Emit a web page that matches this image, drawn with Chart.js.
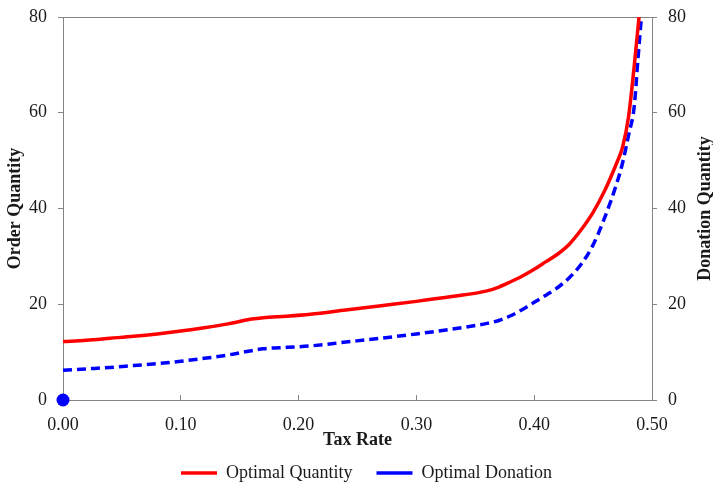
<!DOCTYPE html>
<html>
<head>
<meta charset="utf-8">
<script src="https://cdn.jsdelivr.net/npm/chart.js@4.4.0/dist/chart.umd.min.js"></script>
<style>
  html, body { margin: 0; padding: 0; background: #fff; }
  #wrap { width: 713px; height: 482px; }
</style>
</head>
<body>
<div id="wrap"><canvas id="chart" width="713" height="482"></canvas></div>
<script>
// Data
const quantityRates = [0, 0.02, 0.04, 0.06, 0.08, 0.10, 0.12, 0.14, 0.16, 0.17, 0.19, 0.21, 0.24, 0.27, 0.30, 0.33, 0.36, 0.37, 0.38, 0.39, 0.40, 0.41, 0.42, 0.43, 0.44, 0.45, 0.46, 0.47, 0.475, 0.48, 0.485, 0.489];
const optimalQuantity = [12.2, 12.5, 12.9, 13.3, 13.8, 14.4, 15.1, 15.9, 16.9, 17.2, 17.5, 17.9, 18.8, 19.7, 20.6, 21.6, 22.8, 23.6, 24.7, 25.9, 27.3, 28.9, 30.5, 32.6, 35.6, 39.2, 43.8, 49.5, 52.8, 59.0, 70.0, 80];

const donationRates = [0, 0.02, 0.04, 0.06, 0.08, 0.10, 0.12, 0.14, 0.16, 0.17, 0.19, 0.21, 0.24, 0.27, 0.30, 0.33, 0.36, 0.37, 0.38, 0.39, 0.40, 0.41, 0.42, 0.43, 0.44, 0.45, 0.46, 0.47, 0.475, 0.48, 0.485, 0.488, 0.491];
const optimalDonation = [6.2, 6.5, 6.8, 7.2, 7.6, 8.1, 8.7, 9.4, 10.3, 10.7, 11.0, 11.3, 12.1, 12.9, 13.8, 14.8, 16.0, 16.6, 17.6, 18.9, 20.4, 21.9, 23.5, 25.6, 28.4, 32.4, 38.2, 45.2, 49.5, 55.2, 61.5, 71.0, 80];

const originPoint = [{ x: 0, y: 0 }];

const xTicks = [0, 0.1, 0.2, 0.3, 0.4, 0.5];
const yTicks = [0, 20, 40, 60, 80];

const FONT = "'Liberation Serif', 'Times New Roman', serif";
const AXIS_GREY = '#858585';
const TEXT = '#1a1a1a';

function toPoints(xs, ys) {
    return xs.map((x, i) => ({ x: x, y: ys[i] }));
}

// Vertical axis: no extra room for half-labels at the ends
function fixVertical(width) {
    return scale => {
        scale.width = width;
        scale.paddingTop = 0;
        scale.paddingBottom = 0;
    };
}

// Right-hand title reads bottom-to-top, like the left one
const rightTitle = {
    id: 'rightTitle',
    afterDraw(chart) {
        const area = chart.chartArea;
        const c = chart.ctx;
        c.save();
        c.translate(705, (area.top + area.bottom) / 2);
        c.rotate(-Math.PI / 2);
        c.font = "bold 18px " + FONT;
        c.fillStyle = TEXT;
        c.textAlign = 'center';
        c.textBaseline = 'middle';
        c.fillText('Donation Quantity', 0, 0);
        c.restore();
    }
};

Chart.defaults.font.family = FONT;
Chart.defaults.font.size = 18;
Chart.defaults.color = TEXT;

const ctx = document.getElementById('chart').getContext('2d');

new Chart(ctx, {
    type: 'line',
    data: {
        datasets: [{
            label: 'Optimal Quantity',
            data: toPoints(quantityRates, optimalQuantity),
            borderColor: '#ff0000',
            backgroundColor: '#ff0000',
            borderWidth: 3.5,
            pointRadius: 0,
            cubicInterpolationMode: 'monotone',
            yAxisID: 'y'
        }, {
            label: 'Optimal Donation',
            data: toPoints(donationRates, optimalDonation),
            borderColor: '#0000ff',
            backgroundColor: '#0000ff',
            borderWidth: 3.5,
            borderDash: [9, 5],
            pointRadius: 0,
            cubicInterpolationMode: 'monotone',
            yAxisID: 'y2'
        }, {
            label: 'origin',
            data: originPoint,
            showLine: false,
            pointRadius: 6.5,
            pointBackgroundColor: '#0000ff',
            pointBorderWidth: 0,
            clip: false,
            yAxisID: 'y'
        }]
    },
    plugins: [rightTitle],
    options: {
        responsive: false,
        animation: false,
        layout: { padding: { top: 17, left: 10, right: -10, bottom: -10 } },
        plugins: {
            tooltip: { enabled: false },
            legend: {
                position: 'bottom',
                labels: {
                    usePointStyle: true,
                    pointStyle: 'line',
                    pointStyleWidth: 36,
                    boxHeight: 18,
                    padding: 24,
                    color: TEXT,
                    font: { family: FONT, size: 18 },
                    filter: item => item.text !== 'origin'
                }
            }
        },
        scales: {
            x: {
                type: 'linear',
                position: 'bottom',
                min: 0,
                max: 0.5,
                afterBuildTicks: scale => { scale.ticks = xTicks.map(v => ({ value: v })); },
                afterFit: scale => {
                    scale.height = 40;
                    scale.paddingLeft = 0;
                    scale.paddingRight = 0;
                },
                ticks: {
                    padding: 19,
                    maxRotation: 0,
                    callback: v => v.toFixed(2)
                },
                grid: { drawOnChartArea: false, tickLength: -5, color: AXIS_GREY },
                border: { color: AXIS_GREY, width: 1 },
                title: {
                    display: true,
                    text: 'Tax Rate',
                    font: { family: FONT, size: 18, weight: 'bold' },
                    padding: { top: 0, bottom: -11 }
                }
            },
            xTop: {
                type: 'linear',
                position: 'top',
                min: 0,
                max: 0.5,
                afterFit: scale => {
                    scale.height = 0;
                    scale.paddingLeft = 0;
                    scale.paddingRight = 0;
                },
                ticks: { display: false },
                grid: { drawOnChartArea: false, drawTicks: false },
                border: { color: AXIS_GREY, width: 1 }
            },
            y: {
                position: 'left',
                min: 0,
                max: 80,
                afterBuildTicks: scale => { scale.ticks = yTicks.map(v => ({ value: v })); },
                afterFit: fixVertical(53),
                ticks: { padding: 11 },
                grid: { drawOnChartArea: false, tickLength: 5, color: AXIS_GREY },
                border: { color: AXIS_GREY, width: 1 },
                title: {
                    display: true,
                    text: 'Order Quantity',
                    font: { family: FONT, size: 18, weight: 'bold' },
                    padding: { top: -5, bottom: 0 }
                }
            },
            y2: {
                position: 'right',
                min: 0,
                max: 80,
                afterBuildTicks: scale => { scale.ticks = yTicks.map(v => ({ value: v })); },
                afterFit: fixVertical(71),
                ticks: { padding: 11 },
                grid: { drawOnChartArea: false, tickLength: 5, color: AXIS_GREY },
                border: { color: AXIS_GREY, width: 1 },
                title: { display: false }
            }
        }
    }
});
</script>
</body>
</html>
